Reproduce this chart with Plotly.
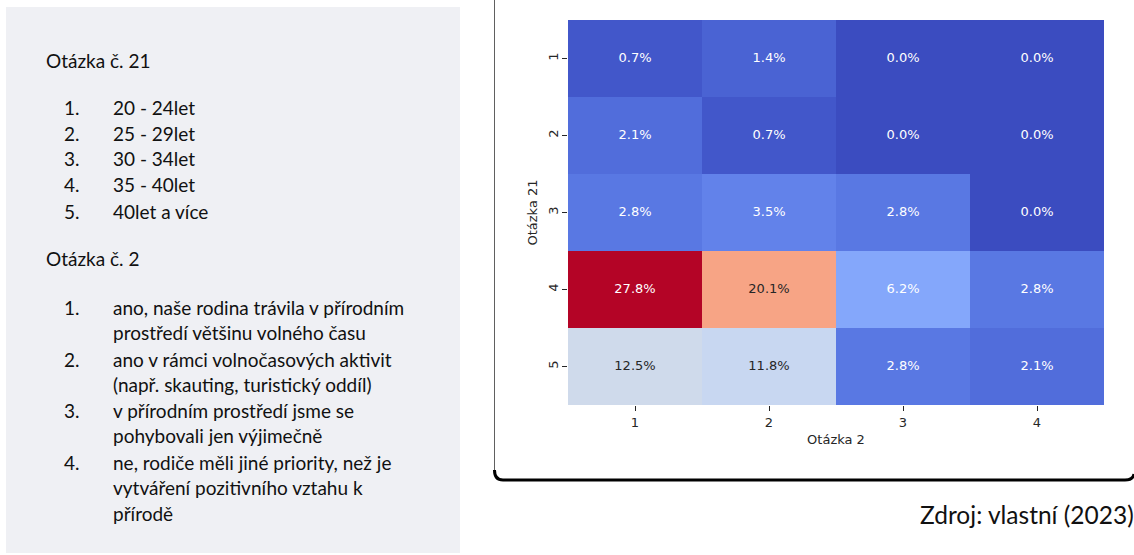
import plotly.graph_objects as go

W, H = 1134, 555

# ---- data ----
otazka2_cats = ["1", "2", "3", "4"]
otazka21_cats = ["1", "2", "3", "4", "5"]
row1 = [0.7, 1.4, 0.0, 0.0]
row2 = [2.1, 0.7, 0.0, 0.0]
row3 = [2.8, 3.5, 2.8, 0.0]
row4 = [27.8, 20.1, 6.2, 2.8]
row5 = [12.5, 11.8, 2.8, 2.1]
values = [row1, row2, row3, row4, row5]

q21_title = "Otázka č. 21"
q21_items = ["20 - 24let", "25 - 29let", "30 - 34let", "35 - 40let", "40let a více"]
q2_title = "Otázka č. 2"
q2_items = [
    ["ano, naše rodina trávila v přírodním", "prostředí většinu volného času"],
    ["ano v rámci volnočasových aktivit", "(např. skauting, turistický oddíl)"],
    ["v přírodním prostředí jsme se", "pohybovali jen výjimečně"],
    ["ne, rodiče měli jiné priority, než je", "vytváření pozitivního vztahu k", "přírodě"],
]
source_text = "Zdroj: vlastní (2023)"

# matplotlib "coolwarm" colormap samples
coolwarm_rgb = [
    (59, 76, 192), (68, 90, 204), (77, 104, 215), (87, 117, 225), (98, 130, 234),
    (108, 142, 241), (119, 154, 247), (130, 165, 251), (141, 176, 254), (152, 185, 255),
    (163, 194, 255), (174, 201, 253), (184, 208, 249), (194, 213, 244), (204, 217, 238),
    (213, 219, 230), (221, 221, 221), (229, 216, 209), (236, 211, 197), (241, 204, 185),
    (245, 196, 173), (247, 187, 160), (247, 177, 148), (247, 166, 135), (244, 154, 123),
    (241, 141, 111), (236, 127, 99), (229, 112, 88), (222, 96, 77), (213, 80, 66),
    (203, 62, 56), (192, 40, 47), (180, 4, 38),
]
n = len(coolwarm_rgb) - 1
colorscale = [[i / n, "rgb(%d,%d,%d)" % c] for i, c in enumerate(coolwarm_rgb)]

zmin = 0.0
zmax = max(max(r) for r in values)


def cmap(t):
    t = min(max(t, 0.0), 1.0) * n
    i = min(int(t), n - 1)
    f = t - i
    a, b = coolwarm_rgb[i], coolwarm_rgb[i + 1]
    return tuple(a[k] + (b[k] - a[k]) * f for k in range(3))


def lum(rgb):
    out = []
    for c in rgb:
        c = c / 255
        out.append(c / 12.92 if c <= 0.03928 else ((c + 0.055) / 1.055) ** 2.4)
    return 0.2126 * out[0] + 0.7152 * out[1] + 0.0722 * out[2]


tx, ty, tt, tc = [], [], [], []
for ri, r in enumerate(values):
    for ci, v in enumerate(r):
        tx.append(otazka2_cats[ci])
        ty.append(otazka21_cats[ri])
        tt.append("%.1f%%" % v)
        col = cmap((v - zmin) / (zmax - zmin))
        tc.append("#262626" if lum(col) > 0.408 else "#ffffff")


def px(x):
    return x / W


def py(y):
    return 1 - y / H


fig = go.Figure()
fig.add_trace(go.Heatmap(
    z=values, x=otazka2_cats, y=otazka21_cats,
    colorscale=colorscale, zmin=zmin, zmax=zmax, showscale=False,
    hoverinfo="skip",
))
fig.add_trace(go.Scatter(
    x=tx, y=ty, text=tt, mode="text",
    textfont=dict(family="DejaVu Sans", size=13, color=tc),
    hoverinfo="skip", showlegend=False,
))

tickfont = dict(family="DejaVu Sans", size=13, color="#262626")
fig.update_layout(
    width=W, height=H,
    margin=dict(l=0, r=0, t=0, b=0),
    paper_bgcolor="white", plot_bgcolor="white",
    showlegend=False,
    xaxis=dict(
        domain=[px(568), px(1104)], type="category",
        showgrid=False, zeroline=False, showline=False,
        ticks="outside", ticklen=5, tickwidth=1, tickcolor="#262626",
        tickfont=tickfont,
        title=dict(text="Otázka 2", font=tickfont, standoff=6),
    ),
    yaxis=dict(
        domain=[py(405), py(20)], type="category", autorange="reversed",
        showgrid=False, zeroline=False, showline=False,
        ticks="outside", ticklen=5, tickwidth=1, tickcolor="#262626",
        tickfont=tickfont, tickangle=-90, ticklabelstandoff=-1,
    ),
)

shapes = []
# left grey panel
shapes.append(dict(type="rect", xref="paper", yref="paper",
                   x0=px(6), x1=px(460), y0=py(553), y1=py(7),
                   fillcolor="#eff0f4", line=dict(width=0), layer="below"))
# chart frame: thin left edge and thick rounded bottom edge
shapes.append(dict(type="line", xref="paper", yref="paper",
                   x0=px(494.5), x1=px(494.5), y0=py(0), y1=py(470),
                   line=dict(color="#606060", width=1)))
path = "M %f,%f Q %f,%f %f,%f L %f,%f Q %f,%f %f,%f" % (
    px(494.5), py(470), px(494.5), py(480), px(503), py(480),
    px(1125), py(480), px(1133), py(480), px(1134), py(474))
shapes.append(dict(type="path", xref="paper", yref="paper", path=path,
                   line=dict(color="#000000", width=3)))
fig.update_layout(shapes=shapes)

tfont = dict(family="Lato", size=19, color="#111111")
ann = []


def add_text(x, y, text, font=tfont, xanchor="left", angle=0):
    ann.append(dict(xref="paper", yref="paper", x=px(x), y=py(y), text=text,
                    showarrow=False, xanchor=xanchor, yanchor="middle",
                    font=font, textangle=angle))


# y-axis title
ann.append(dict(xref="paper", yref="paper", x=px(532), y=py(212.5), text="Otázka 21",
                showarrow=False, xanchor="center", yanchor="middle",
                font=tickfont, textangle=-90))

add_text(44, 60, q21_title)
y21 = [107, 133, 159, 185, 211]
for i, item in enumerate(q21_items):
    add_text(62, y21[i], "%d." % (i + 1))
    add_text(111, y21[i], item)
add_text(44, 258, q2_title)
y2 = [307, 359, 410, 462]
for i, lines in enumerate(q2_items):
    add_text(62, y2[i], "%d." % (i + 1))
    for j, line in enumerate(lines):
        add_text(111, y2[i] + 25.5 * j, line)

add_text(1136, 514, source_text,
         font=dict(family="Lato", size=24.5, color="#111111"), xanchor="right")
fig.update_layout(annotations=ann)

fig.write_html("out.html", config={"displayModeBar": False},
               post_script="document.body.style.margin='0px';")
